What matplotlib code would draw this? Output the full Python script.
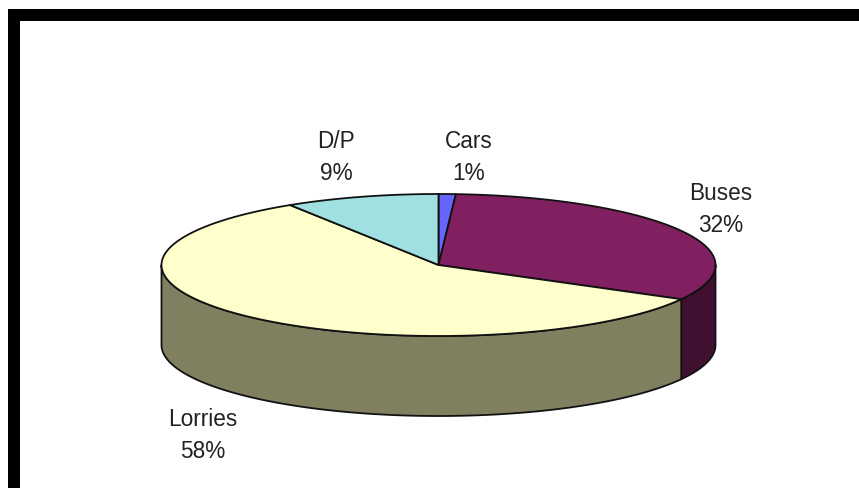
import numpy as np
import matplotlib
matplotlib.use("Agg")
import matplotlib.pyplot as plt
from matplotlib.patches import Polygon, Rectangle

categories = ["Cars", "Buses", "Lorries", "D/P"]
values = [1, 32, 58, 9]
top_colors = ["#6666FF", "#802060", "#FFFFCC", "#A0E0E0"]
side_colors = ["#333380", "#401030", "#808060", "#507070"]
label_x = [469, 721, 203, 336]
label_y = [142, 194, 419, 142]

CX, CY, RX, RY, DEPTH = 438.5, 266, 277, 71, 80
LINE_H = 32

plt.rcParams["font.family"] = ["Liberation Sans", "DejaVu Sans"]
fig = plt.figure(figsize=(8.59, 4.89), dpi=100, facecolor="white")
ax = fig.add_axes([0, 0, 1, 1])
ax.set_xlim(0, 859)
ax.set_ylim(489, 0)
ax.axis("off")

# frame
ax.add_patch(Rectangle((8, 10), 851, 12, fc="black", ec="none"))
ax.add_patch(Rectangle((8, 10), 12, 479, fc="black", ec="none"))


def arc(t0, t1, dy=0):
    t = np.radians(np.linspace(t0, t1, max(2, int(abs(t1 - t0) * 2) + 1)))
    return np.column_stack([CX + RX * np.sin(t), CY - RY * np.cos(t) + dy])


total = sum(values)
edges = np.concatenate([[0], np.cumsum(values)]) / total * 360

# sides (front half of the cylinder only)
for i in range(len(values)):
    a = max(edges[i], 90)
    b = min(edges[i + 1], 270)
    if b > a:
        pts = np.vstack([arc(a, b), arc(b, a, DEPTH)])
        ax.add_patch(Polygon(pts, closed=True, fc=side_colors[i], ec="#111111",
                             lw=1.3, joinstyle="round"))

# top slices
for i in range(len(values)):
    pts = np.vstack([[[CX, CY]], arc(edges[i], edges[i + 1])])
    ax.add_patch(Polygon(pts, closed=True, fc=top_colors[i], ec="#111111",
                         lw=1.3, joinstyle="round"))

# labels
for name, v, x, y in zip(categories, values, label_x, label_y):
    ax.text(x, y, name, ha="center", va="center", fontsize=16.3, color="#222222")
    ax.text(x, y + LINE_H, f"{v}%",
            ha="center", va="center", fontsize=16.3, color="#222222")

fig.savefig("out.png", dpi=100)
